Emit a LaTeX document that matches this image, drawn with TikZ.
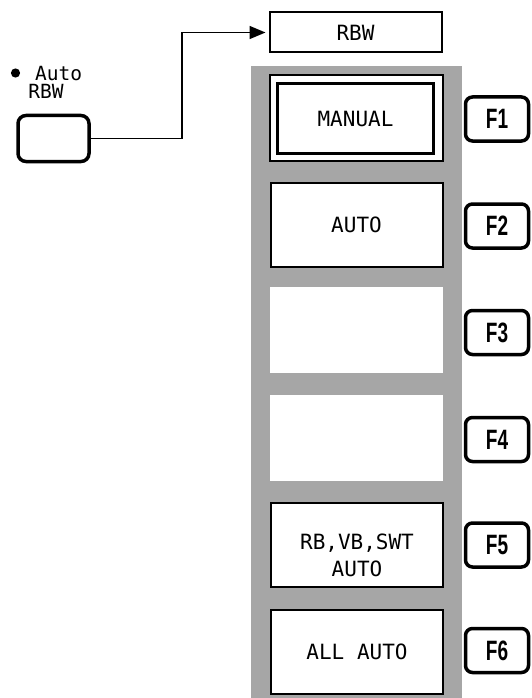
\documentclass[tikz,border=0pt]{standalone}
\usepackage{fontspec}
\usepackage{graphicx}
\usetikzlibrary{arrows.meta}
\newfontfamily\monof{DejaVu Sans Mono}
\newfontfamily\keyf{Liberation Sans}
\newcommand{\fk}[1]{\scalebox{0.68}[1]{#1}}
\tikzset{
  menubox/.style={draw=black, line width=2pt, fill=white, minimum width=172pt, minimum height=84pt, inner sep=0pt, font=\monof\fontsize{21}{21}\selectfont, align=center},
  slotbox/.style={fill=white, minimum width=173pt, minimum height=86pt, inner sep=0pt},
  fkey/.style={draw=black, line width=3.5pt, rounded corners=7pt, fill=white, minimum width=63pt, minimum height=44pt, inner sep=0pt, font=\keyf\bfseries\fontsize{28}{28}\selectfont},
  lbl/.style={font=\monof\fontsize{19.5}{20}\selectfont, inner sep=0pt},
  conn/.style={line width=1.6pt, -{Triangle[length=16pt,width=13pt]}, shorten >=3pt}
}
\begin{document}
\begin{tikzpicture}[x=1pt,y=-1pt]
\useasboundingbox[fill=white] (0,0) rectangle (531,698);
% shaded panel
\fill[black!35] (251,66) rectangle (462,698);
% top RBW box
\node[menubox, minimum height=40pt] (rbw) at (355.5,32.5) {RBW};
% MANUAL (double frame)
\node[draw=black, line width=2pt, fill=white, minimum width=173pt, minimum height=85pt, inner sep=0pt] (manualouter) at (356,118) {};
\node[menubox, line width=2.5pt, minimum width=156pt, minimum height=70pt] (manual) at (355.5,118.5) {MANUAL};
\node[menubox] (auto) at (356.5,224.5) {AUTO};
\node[slotbox] (slot3) at (356.5,330) {};
\node[slotbox] (slot4) at (356.5,438) {};
\node[menubox] (rbvb) at (357,545) {};
\node[font=\monof\fontsize{21}{21}\selectfont, inner sep=0pt, align=center] (rbvbtext) at (357,555) {RB,VB,SWT\\[6pt]AUTO};
\node[menubox] (allauto) at (357,652) {ALL AUTO};
% function keys
\node[fkey] (f1) at (497,119) {\fk{F1}};
\node[fkey] (f2) at (497,226) {\fk{F2}};
\node[fkey] (f3) at (497,332.5) {\fk{F3}};
\node[fkey] (f4) at (497,439.5) {\fk{F4}};
\node[fkey] (f5) at (497,545) {\fk{F5}};
\node[fkey] (f6) at (497,650.5) {\fk{F6}};
% Auto RBW key
\fill (15.5,73) circle[radius=4.6pt];
\node[lbl, anchor=west] (autolbl) at (35,73.5) {Auto};
\node[lbl] (rbwlbl) at (46,91.5) {RBW};
\node[draw=black, line width=3.5pt, rounded corners=8pt, minimum width=71pt, minimum height=46pt, inner sep=0pt] (key) at (53.5,138.5) {};
% connector
\coordinate (bend) at (182,32.5);
\draw[conn] (key.east) -| (bend) -- (rbw.west);
\end{tikzpicture}
\end{document}
